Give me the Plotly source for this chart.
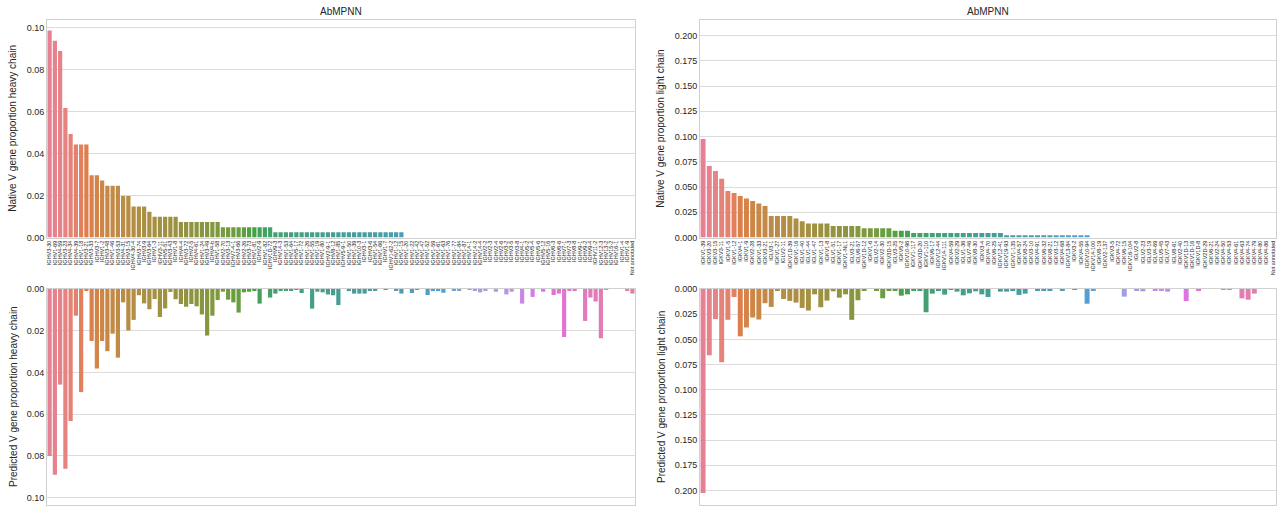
import math
import colorsys
import plotly.graph_objects as go

# ---------------- data ----------------
heavy_genes = [
    "IGHV3-30", "IGHV1-69", "IGHV4-59", "IGHV3-23", "IGHV4-34", "IGHV4-39", "IGHV1-18", "IGHV3-21", "IGHV3-33", "IGHV3-7",
    "IGHV1-2", "IGHV3-48", "IGHV1-46", "IGHV3-53", "IGHV4-31", "IGHV3-15", "IGHV4-30-4", "IGHV3-74", "IGHV3-9", "IGHV3-64",
    "IGHV1-3", "IGHV3-11", "IGHV5-51", "IGHV3-43", "IGHV1-8", "IGHV4-4", "IGHV3-72", "IGHV2-5", "IGHV4-61", "IGHV1-24",
    "IGHV3-49", "IGHV4-b", "IGHV1-58", "IGHV2-70", "IGHV3-13", "IGHV7-4-1", "IGHV3-66", "IGHV2-26", "IGHV3-73", "IGHV1-81",
    "IGHV2-9", "IGHV1-82", "IGHV1D-72", "IGHV9-3", "IGHV14-3", "IGHV1-53", "IGHV1-64", "IGHV5-17", "IGHV1-72", "IGHV1-26",
    "IGHV1-55", "IGHV1-19", "IGHV1-80", "IGHV2-9-1", "IGHV8-12", "IGHV1-85", "IGHV5-9-1", "IGHV1-50", "IGHV1-39", "IGHV10-3",
    "IGHV3-1", "IGHV3-6", "IGHV1-54", "IGHV1-66", "IGHV1-7", "IGHV1-62-2", "IGHV1-12", "IGHV1-15", "IGHV1-20", "IGHV1-22",
    "IGHV1-42", "IGHV1-47", "IGHV1-52", "IGHV1-59", "IGHV1-61", "IGHV1-63", "IGHV1-76", "IGHV1-77", "IGHV1-84", "IGHV1-87",
    "IGHV14-1", "IGHV14-2", "IGHV14-4", "IGHV2-2", "IGHV2-3", "IGHV2-4", "IGHV2-6", "IGHV3-2", "IGHV3-5", "IGHV3-8",
    "IGHV4-1", "IGHV5-2", "IGHV5-4", "IGHV5-6", "IGHV5-12", "IGHV5-16", "IGHV6-3", "IGHV6-6", "IGHV7-1", "IGHV7-3",
    "IGHV8-8", "IGHV9-1", "IGHV9-2", "IGHV9-4", "IGHV11-2", "IGHV12-3", "IGHV13-2", "IGHV15-2", "IGHV16-1", "IGHV1-4",
    "IGHV1-9", "Not annotated",
]

heavy_native = [
    0.0985, 0.0936, 0.0887, 0.0616, 0.0493, 0.0443, 0.0443, 0.0443, 0.0296, 0.0296,
    0.0271, 0.0246, 0.0246, 0.0246, 0.0197, 0.0197, 0.0148, 0.0148, 0.0148, 0.0123,
    0.0099, 0.0099, 0.0099, 0.0099, 0.0099, 0.0074, 0.0074, 0.0074, 0.0074, 0.0074,
    0.0074, 0.0074, 0.0074, 0.0049, 0.0049, 0.0049, 0.0049, 0.0049, 0.0049, 0.0049,
    0.0049, 0.0049, 0.0049, 0.0025, 0.0025, 0.0025, 0.0025, 0.0025, 0.0025, 0.0025,
    0.0025, 0.0025, 0.0025, 0.0025, 0.0025, 0.0025, 0.0025, 0.0025, 0.0025, 0.0025,
    0.0025, 0.0025, 0.0025, 0.0025, 0.0025, 0.0025, 0.0025, 0.0025, 0.0, 0.0,
    0.0, 0.0, 0.0, 0.0, 0.0, 0.0, 0.0, 0.0, 0.0, 0.0,
    0.0, 0.0, 0.0, 0.0, 0.0, 0.0, 0.0, 0.0, 0.0, 0.0,
    0.0, 0.0, 0.0, 0.0, 0.0, 0.0, 0.0, 0.0, 0.0, 0.0,
    0.0, 0.0, 0.0, 0.0, 0.0, 0.0, 0.0, 0.0, 0.0, 0.0,
    0.0, 0.0,
]

heavy_predicted = [
    0.0800, 0.0890, 0.0458, 0.0861, 0.0632, 0.0128, 0.0494, 0.0008, 0.0249, 0.0381,
    0.0249, 0.0298, 0.0214, 0.0329, 0.0064, 0.0199, 0.0148, 0.0030, 0.0069, 0.0097,
    0.0048, 0.0134, 0.0093, 0.0014, 0.0049, 0.0072, 0.0085, 0.0072, 0.0083, 0.0122,
    0.0223, 0.0128, 0.0053, 0.0013, 0.0051, 0.0064, 0.0113, 0.0016, 0.0013, 0.0005,
    0.0070, 0.0, 0.0041, 0.0022, 0.0006, 0.0006, 0.0006, 0.0003, 0.0019, 0.0,
    0.0094, 0.0013, 0.0016, 0.0026, 0.0030, 0.0077, 0.0, 0.0010, 0.0022, 0.0022,
    0.0022, 0.0006, 0.0006, 0.0, 0.0002, 0.0, 0.0006, 0.0022, 0.0, 0.0019,
    0.0003, 0.0, 0.0029, 0.0010, 0.0010, 0.0018, 0.0, 0.0006, 0.0006, 0.0,
    0.0003, 0.0006, 0.0016, 0.0006, 0.0, 0.0013, 0.0, 0.0026, 0.0013, 0.0,
    0.0070, 0.0, 0.0038, 0.0, 0.0013, 0.0, 0.0029, 0.0022, 0.0230, 0.0006,
    0.0010, 0.0, 0.0153, 0.0041, 0.0060, 0.0236, 0.0003, 0.0, 0.0, 0.0,
    0.0006, 0.0022,
]

light_genes = [
    "IGKV1-39", "IGKV3-20", "IGKV3-15", "IGKV3-11", "IGKV1-5", "IGKV1-12", "IGKV4-1", "IGKV1-9", "IGKV2-28", "IGKV1-33",
    "IGKV3-21", "IGLV3-1", "IGKV1-27", "IGLV2-11", "IGKV1D-39", "IGKV1-16", "IGLV1-40", "IGLV1-44", "IGLV1-47", "IGKV1-13",
    "IGKV1-8", "IGLV1-51", "IGKV1-17", "IGKV1-NL1", "IGLV3-21", "IGLV6-57", "IGKV1D-12", "IGKV1-6", "IGLV2-14", "IGKV2-30",
    "IGKV3D-15", "IGLV3-25", "IGKV5-2", "IGKV10-96", "IGKV1-117", "IGKV3D-20", "IGKV1-110", "IGKV6-17", "IGKV12-44", "IGKV14-111",
    "IGKV4-59", "IGKV2-29", "IGLV1-36", "IGLV7-46", "IGKV8-30", "IGKV3-4", "IGKV4-70", "IGKV6-25", "IGKV12-41", "IGKV19-93",
    "IGKV1-135", "IGKV4-57", "IGKV8-24", "IGKV3-10", "IGKV4-91", "IGKV6-32", "IGKV8-21", "IGKV3-12", "IGKV4-68", "IGKV13-84",
    "IGKV3-2", "IGKV4-55", "IGKV10-94", "IGKV14-100", "IGKV8-19", "IGKV2-137", "IGKV3-5", "IGKV4-72", "IGKV6-15", "IGKV16-104",
    "IGLV2-8", "IGLV2-23", "IGLV3-19", "IGLV4-69", "IGLV5-45", "IGLV7-43", "IGLV8-61", "IGKV2-40", "IGKV1D-13", "IGKV1D-16",
    "IGKV1D-8", "IGKV2D-29", "IGKV6-21", "IGKV2-24", "IGKV4-50", "IGKV4-53", "IGKV4-61", "IGKV4-63", "IGKV4-74", "IGKV4-79",
    "IGKV4-80", "IGKV4-86", "Not annotated",
]

light_native = [
    0.0977, 0.0709, 0.0659, 0.0583, 0.0460, 0.0440, 0.0411, 0.0387, 0.0361, 0.0338,
    0.0311, 0.0212, 0.0212, 0.0212, 0.0212, 0.0189, 0.0162, 0.0139, 0.0139, 0.0139,
    0.0139, 0.0113, 0.0113, 0.0113, 0.0113, 0.0113, 0.0092, 0.0092, 0.0092, 0.0092,
    0.0092, 0.0068, 0.0068, 0.0068, 0.0045, 0.0045, 0.0045, 0.0045, 0.0045, 0.0045,
    0.0045, 0.0045, 0.0045, 0.0045, 0.0045, 0.0045, 0.0045, 0.0045, 0.0045, 0.0023,
    0.0023, 0.0023, 0.0023, 0.0023, 0.0023, 0.0023, 0.0023, 0.0023, 0.0023, 0.0023,
    0.0023, 0.0023, 0.0023, 0.0, 0.0, 0.0, 0.0, 0.0, 0.0, 0.0,
    0.0, 0.0, 0.0, 0.0, 0.0, 0.0, 0.0, 0.0, 0.0, 0.0,
    0.0, 0.0, 0.0, 0.0, 0.0, 0.0, 0.0, 0.0, 0.0, 0.0,
    0.0, 0.0, 0.0,
]

light_predicted = [
    0.2026, 0.0658, 0.0299, 0.0727, 0.0306, 0.0079, 0.0470, 0.0382, 0.0283, 0.0303,
    0.0141, 0.0178, 0.0020, 0.0099, 0.0118, 0.0135, 0.0188, 0.0214, 0.0053, 0.0181,
    0.0115, 0.0023, 0.0086, 0.0053, 0.0306, 0.0112, 0.0018, 0.0, 0.0013, 0.0092,
    0.0013, 0.0020, 0.0066, 0.0053, 0.0010, 0.0013, 0.0231, 0.0046, 0.0020, 0.0056,
    0.0007, 0.0026, 0.0063, 0.0043, 0.0023, 0.0053, 0.0079, 0.0, 0.0026, 0.0026,
    0.0012, 0.0059, 0.0046, 0.0, 0.0013, 0.0013, 0.0013, 0.0, 0.0013, 0.0,
    0.0007, 0.0, 0.0146, 0.0013, 0.0, 0.0, 0.0, 0.0, 0.0076, 0.0,
    0.0013, 0.0023, 0.0, 0.0020, 0.0013, 0.0026, 0.0, 0.0, 0.0119, 0.0,
    0.0017, 0.0, 0.0, 0.0, 0.0007, 0.0007, 0.0, 0.0093, 0.0106, 0.0046,
    0.0, 0.0, 0.0,
]

assert len(heavy_genes) == len(heavy_native) == len(heavy_predicted)
assert len(light_genes) == len(light_native) == len(light_predicted)

# ---------------- seaborn-like husl palette ----------------
_m = [[3.2406, -1.5372, -0.4986], [-0.9689, 1.8758, 0.0415], [0.0557, -0.2040, 1.0570]]
_refU, _refV, _lab_e, _lab_k = 0.19784, 0.46834, 0.008856, 903.3


def _max_chroma(L, H):
    hrad = math.radians(H)
    sinH, cosH = math.sin(hrad), math.cos(hrad)
    sub1 = (L + 16) ** 3 / 1560896.0
    sub2 = sub1 if sub1 > _lab_e else L / _lab_k
    result = float("inf")
    for m1, m2, m3 in _m:
        top = (0.99915 * m1 + 1.05122 * m2 + 1.14460 * m3) * sub2
        rb = 0.86330 * m3 - 0.17266 * m2
        lb = 0.12949 * m3 - 0.38848 * m1
        bottom = (rb * sinH + lb * cosH) * sub2
        for t in (0.0, 1.0):
            C = L * (top - 1.05122 * t) / (bottom + 0.17266 * sinH * t)
            if 0.0 < C < result:
                result = C
    return result


def _f_inv(t):
    return t ** 3 if t ** 3 > _lab_e else (116.0 * t - 16.0) / _lab_k


def _from_linear(c):
    return 12.92 * c if c <= 0.0031308 else 1.055 * c ** (1 / 2.4) - 0.055


def husl_to_rgb(H, S, L):
    C = _max_chroma(L, H) / 100.0 * S
    hr = math.radians(H)
    U, V = C * math.cos(hr), C * math.sin(hr)
    Y = _f_inv((L + 16.0) / 116.0)
    vU = U / (13.0 * L) + _refU
    vV = V / (13.0 * L) + _refV
    X = 0.0 - (9.0 * Y * vU) / ((vU - 4.0) * vV - vU * vV)
    Z = (9.0 * Y - 15.0 * vV * Y - vV * X) / (3.0 * vV)
    return [min(1, max(0, _from_linear(r[0] * X + r[1] * Y + r[2] * Z))) for r in _m]


def palette(n, sat=0.75):
    out = []
    for i in range(n):
        h = ((i / n) + 0.01) % 1 * 359
        r, g, b = husl_to_rgb(h, 0.9 * 99, 0.65 * 99)
        hh, ll, ss = colorsys.rgb_to_hls(r, g, b)
        r, g, b = colorsys.hls_to_rgb(hh, ll, ss * sat)
        out.append("rgb(%d,%d,%d)" % (round(r * 255), round(g * 255), round(b * 255)))
    return out


heavy_colors = palette(len(heavy_genes))
light_colors = palette(len(light_genes))

# ---------------- figure ----------------
W, H = 1280, 506
FONT = "Liberation Sans, Arial, sans-serif"
TXT = "#262626"
GRID = "#dcdcdc"
LINE = "#d0d0d0"

fig = go.Figure()
fig.add_trace(go.Bar(x=heavy_genes, y=heavy_native, marker_color=heavy_colors,
                     marker_line_width=0, xaxis="x", yaxis="y", showlegend=False))
fig.add_trace(go.Bar(x=heavy_genes, y=heavy_predicted, marker_color=heavy_colors,
                     marker_line_width=0, xaxis="x2", yaxis="y2", showlegend=False))
fig.add_trace(go.Bar(x=light_genes, y=light_native, marker_color=light_colors,
                     marker_line_width=0, xaxis="x3", yaxis="y3", showlegend=False))
fig.add_trace(go.Bar(x=light_genes, y=light_predicted, marker_color=light_colors,
                     marker_line_width=0, xaxis="x4", yaxis="y4", showlegend=False))

xl = [47 / W, 635 / W]
xr = [700 / W, 1276 / W]
ytop = [1 - 237.5 / H, 1 - 20 / H]
ybot = [1 - 505 / H, 1 - 289 / H]


def xax(dom, anchor, cats, labels):
    return dict(domain=dom, anchor=anchor, type="category", categoryorder="array",
                categoryarray=cats, tickmode="array", tickvals=cats, ticktext=cats,
                showticklabels=labels, tickangle=-90, tickfont=dict(size=5.5, color=TXT, family=FONT),
                showgrid=False, showline=True, mirror=True, linecolor=LINE, linewidth=1,
                zeroline=False, ticks="", range=[-0.5, len(cats) - 0.5], automargin=False)


def yax(dom, anchor, rng, dtick, fmt):
    return dict(domain=dom, anchor=anchor, range=rng, dtick=dtick, tick0=0, tickformat=fmt,
                tickfont=dict(size=9, color=TXT, family=FONT), showgrid=True, gridcolor=GRID,
                gridwidth=1, showline=True, mirror=True, linecolor=LINE, linewidth=1,
                zeroline=False, ticks="", automargin=False)


fig.update_layout(
    width=W, height=H, margin=dict(l=0, r=0, t=0, b=0, autoexpand=False),
    paper_bgcolor="white", plot_bgcolor="white", bargap=0.2,
    font=dict(family=FONT, color=TXT),
    xaxis=xax(xl, "y", heavy_genes, True),
    yaxis=yax(ytop, "x", [0, 0.1035], 0.02, ".2f"),
    xaxis2=xax(xl, "y2", heavy_genes, False),
    yaxis2=yax(ybot, "x2", [0.1035, 0], 0.02, ".2f"),
    xaxis3=xax(xr, "y3", light_genes, True),
    yaxis3=yax(ytop, "x3", [0, 0.2155], 0.025, ".3f"),
    xaxis4=xax(xr, "y4", light_genes, False),
    yaxis4=yax(ybot, "x4", [0.2145, 0], 0.025, ".3f"),
)

ann = [
    ("AbMPNN", 341, 12, 0),
    ("AbMPNN", 988, 12, 0),
    ("Native V gene proportion heavy chain", 13, (20 + 237.5) / 2, -90),
    ("Predicted V gene proportion heavy chain", 13, (289 + 505) / 2, -90),
    ("Native V gene proportion light chain", 661, (20 + 237.5) / 2, -90),
    ("Predicted V gene proportion light chain", 661, (289 + 505) / 2, -90),
]
for text, px, py, ang in ann:
    fig.add_annotation(text=text, x=px / W, y=1 - py / H, xref="paper", yref="paper",
                       showarrow=False, textangle=ang, xanchor="center", yanchor="middle",
                       font=dict(size=10, color=TXT, family=FONT))

fig.write_html("out.html", config={"displayModeBar": False},
               post_script="document.body.style.margin='0';document.body.style.overflow='hidden';")
